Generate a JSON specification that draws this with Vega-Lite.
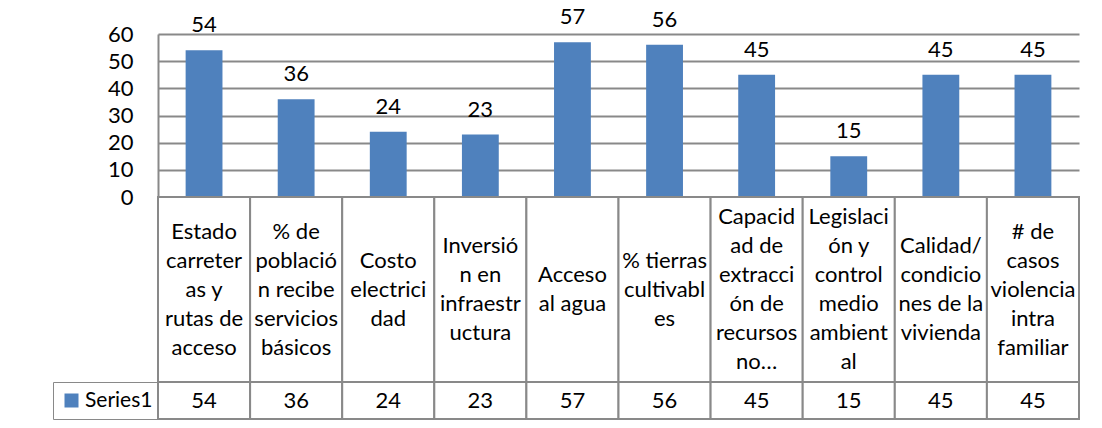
{
  "$schema": "https://vega.github.io/schema/vega-lite/v6.json",
  "autosize": {"type": "none"},
  "padding": {"left": 158, "top": 34, "right": 944, "bottom": 394},
  "background": "white",
  "data": {
    "values": [
      {"category": "Estado carreteras y rutas de acceso", "label": "Estado|carreter|as y|rutas de|acceso", "series": "Series1", "value": 54},
      {"category": "% de población recibe servicios básicos", "label": "% de|població|n recibe|servicios|básicos", "series": "Series1", "value": 36},
      {"category": "Costo electricidad", "label": "Costo|electrici|dad", "series": "Series1", "value": 24},
      {"category": "Inversión en infraestructura", "label": "Inversió|n en|infraestr|uctura", "series": "Series1", "value": 23},
      {"category": "Acceso al agua", "label": "Acceso|al agua", "series": "Series1", "value": 57},
      {"category": "% tierras cultivables", "label": "% tierras|cultivabl|es", "series": "Series1", "value": 56},
      {"category": "Capacidad de extracción de recursos no…", "label": "Capacid|ad de|extracci|ón de|recursos|no…", "series": "Series1", "value": 45},
      {"category": "Legislación y control medio ambiental", "label": "Legislaci|ón y|control|medio|ambient|al", "series": "Series1", "value": 15},
      {"category": "Calidad/condiciones de la vivienda", "label": "Calidad/|condicio|nes de la|vivienda", "series": "Series1", "value": 45},
      {"category": "# de casos violencia intra familiar", "label": "# de|casos|violencia|intra|familiar", "series": "Series1", "value": 45}
    ]
  },
  "spacing": 0,
  "bounds": "flush",
  "resolve": {"scale": {"x": "independent", "y": "independent", "color": "independent"}},
  "vconcat": [
    {
      "width": 921,
      "height": 163,
      "encoding": {
        "x": {"field": "category", "type": "nominal", "sort": null, "scale": {"paddingInner": 0.6, "paddingOuter": 0.3}, "axis": null},
        "y": {
          "field": "value", "type": "quantitative",
          "scale": {"domain": [0, 60], "nice": false},
          "axis": {
            "values": [0, 10, 20, 30, 40, 50, 60], "title": null, "labelOverlap": false,
            "grid": true, "gridColor": "#898989", "gridWidth": 2,
            "domain": true, "domainColor": "#898989", "domainWidth": 2,
            "ticks": false, "labelFont": "Lato", "labelFontSize": 22,
            "labelColor": "black", "labelPadding": 25
          }
        }
      },
      "layer": [
        {
          "mark": {"type": "bar"},
          "encoding": {
            "color": {
              "field": "series", "type": "nominal",
              "scale": {"range": ["#4F81BD"]},
              "legend": {
                "orient": "none", "legendX": -105, "legendY": 348, "title": null,
                "symbolType": "square", "symbolSize": 196, "symbolStrokeWidth": 0, "symbolOpacity": 1,
                "labelFont": "Lato", "labelFontSize": 21, "labelColor": "black", "labelOffset": 3,
                "strokeColor": "#898989", "padding": 8
              }
            }
          }
        },
        {
          "mark": {"type": "text", "dy": -18, "baseline": "alphabetic", "font": "Lato", "fontSize": 22, "color": "black"},
          "encoding": {
            "text": {"field": "value", "type": "quantitative"}
          }
        }
      ]
    },
    {
      "width": 921,
      "height": 185,
      "transform": [{"calculate": "length(split(datum.label, '|'))", "as": "nlines"}],
      "layer": [
        {
          "mark": {"type": "rect", "fill": "white", "stroke": "#898989", "strokeWidth": 2},
          "encoding": {
            "x": {"field": "category", "type": "nominal", "sort": null, "scale": {"paddingInner": 0, "paddingOuter": 0}, "axis": null}
          }
        },
        {
          "mark": {"type": "text", "font": "Lato", "fontSize": 22, "lineBreak": "|", "lineHeight": 29, "baseline": "middle", "color": "black"},
          "encoding": {
            "x": {"field": "category", "type": "nominal", "sort": null},
            "y": {"field": "nlines", "type": "quantitative", "scale": {"domain": [1, 6], "range": [92.5, 20]}, "axis": null},
            "text": {"field": "label", "type": "nominal"}
          }
        }
      ]
    },
    {
      "width": 921,
      "height": 37,
      "layer": [
        {
          "mark": {"type": "rect", "fill": "white", "stroke": "#898989", "strokeWidth": 2},
          "encoding": {
            "x": {"field": "category", "type": "nominal", "sort": null, "scale": {"paddingInner": 0, "paddingOuter": 0}, "axis": null}
          }
        },
        {
          "mark": {"type": "text", "font": "Lato", "fontSize": 22, "baseline": "middle", "color": "black"},
          "encoding": {
            "x": {"field": "category", "type": "nominal", "sort": null},
            "text": {"field": "value", "type": "quantitative"}
          }
        }
      ]
    }
  ],
  "config": {
    "view": {"stroke": null},
    "font": "Lato"
  }
}
